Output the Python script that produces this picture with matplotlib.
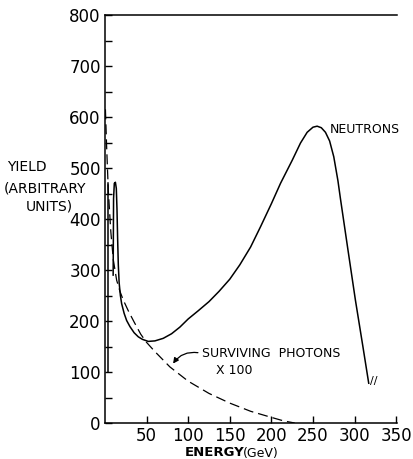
import numpy as np
import matplotlib
matplotlib.use("Agg")
import matplotlib.pyplot as plt

# Neutron yield (solid) – vertical rise near the axis, narrow spike, broad peak
neutron_line_x = [4, 4]
neutron_line_y = [100, 470]
neutron_x = [9.8, 10.3, 11.2, 12.5, 13.6, 14.4, 15.2, 16, 17, 18.5, 20, 23, 26, 30, 35, 40, 45, 52, 60, 70, 80, 90,
             100, 112, 125, 137, 150, 162, 175, 187, 200, 211, 225, 235, 243, 250, 255, 260, 265, 270, 275, 280, 283,
             292, 301, 310, 317]
neutron_y = [290, 440, 470, 472, 460, 420, 360, 310, 275, 250, 234, 215, 201, 189, 177, 169, 164, 160, 161, 166, 175, 188,
             204, 220, 238, 258, 282, 310, 345, 385, 430, 470, 515, 549, 570, 580, 582, 579, 570, 553, 522, 475, 440,
             340, 241, 150, 78]

# Surviving photons x100 (dashed)
photon_x = [0.5, 2, 4, 7, 10, 14, 18, 22, 28, 35, 43, 50, 60, 78, 100, 125, 150, 175, 200, 215, 228]
photon_y = [615, 540, 455, 375, 320, 280, 258, 241, 220, 198, 174, 158, 140, 110, 82, 58, 39, 23, 11, 4, 0]

x_ticks = [50, 100, 150, 200, 250, 300, 350]
y_ticks = [0, 100, 200, 300, 400, 500, 600, 700, 800]

fig = plt.figure(figsize=(4.13, 4.59), dpi=100)
ax = fig.add_axes([105/413, 1-423/459, (397-105)/413, (423-15)/459])

ax.plot(neutron_line_x, neutron_line_y, color='black', lw=1.1)
ax.plot(neutron_x, neutron_y, color='black', lw=1.1)
ax.plot(photon_x, photon_y, color='black', lw=0.9, dashes=(8, 4))

ax.set_xlim(0, 351)
ax.set_ylim(0, 800)
ax.set_xticks(x_ticks)
ax.set_yticks(y_ticks)
ax.set_yticks([50, 150, 250, 350, 450, 550, 650, 750], minor=True)
ax.tick_params(axis='both', direction='in', length=5, width=1, labelsize=12, color='black')
ax.tick_params(axis='y', which='minor', direction='in', length=5, width=1)
ax.tick_params(axis='x', pad=3)
ax.tick_params(axis='y', pad=3)
ax.spines['right'].set_visible(False)
for s in ['left', 'bottom', 'top']:
    ax.spines[s].set_linewidth(1.1)

# "//" break mark at end of neutron curve
ax.text(neutron_x[-1] + 1, neutron_y[-1] + 5, "//", fontsize=8, ha='left', va='center')

ax.text(270, 575, "NEUTRONS", fontsize=9, ha='left', va='center')
ax.text(116, 137, "SURVIVING  PHOTONS", fontsize=9, ha='left', va='center')
ax.text(133, 103, "X 100", fontsize=9, ha='left', va='center')
ax.annotate("", xy=(80, 112), xytext=(115, 137),
            arrowprops=dict(arrowstyle='-|>', color='black', lw=0.9,
                            connectionstyle='arc3,rad=0.35', mutation_scale=8))

fig.text(7/413, 1-167/459, "YIELD", fontsize=10, ha='left', va='center')
fig.text(4/413, 1-188/459, "(ARBITRARY", fontsize=10, ha='left', va='center')
fig.text(49/413, 1-207/459, "UNITS)", fontsize=10, ha='center', va='center')

fig.text(185/413, 1-453/459, "ENERGY", fontsize=9.5, fontweight='bold', ha='left', va='center')
fig.text(243/413, 1-453/459, "(GeV)", fontsize=9, ha='left', va='center')

fig.savefig("out.png", dpi=100)
